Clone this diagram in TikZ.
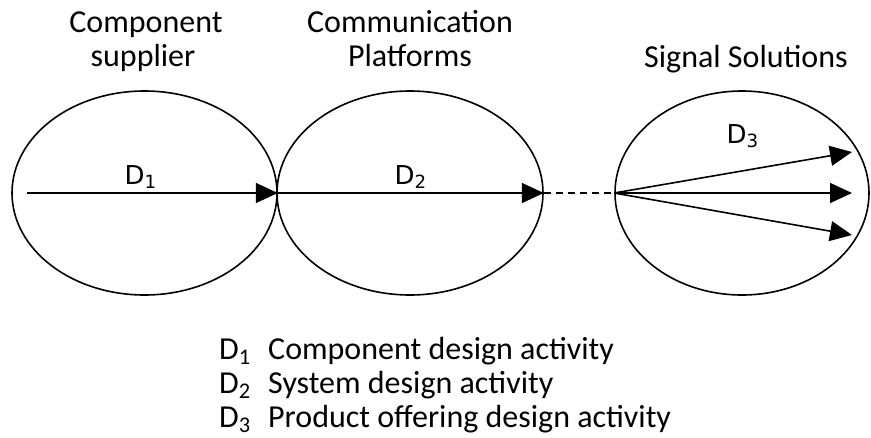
\documentclass[tikz,border=0pt]{standalone}
\usepackage{fontspec}
\setmainfont{Carlito}
\newfontfamily\dvfont{DejaVu Sans}
\usetikzlibrary{shapes.geometric,arrows.meta}
\begin{document}
\begin{tikzpicture}[x=1pt,y=-1pt,
  oval/.style={draw,ellipse,line width=1.6pt,inner sep=0pt,minimum height=204pt},
  flow/.style={line width=1.6pt,-{Triangle[length=22pt,width=20pt]}},
  dlabel/.style={anchor=base west,inner sep=0pt,font=\dvfont\fontsize{26}{30}\selectfont},
  title/.style={anchor=base,inner sep=0pt,font=\fontsize{32}{38}\selectfont},
  legend/.style={anchor=base west,inner sep=0pt,font=\fontsize{32}{38}\selectfont}]
\useasboundingbox (0,0) rectangle (871,437);
% titles
\node[title] (t1a) at (146,32) {Component};
\node[title] (t1b) at (143,66) {supplier};
\node[title] (t2a) at (410,32) {Communication};
\node[title] (t2b) at (410,66) {Platforms};
\node[title] (t3) at (746,67) {Signal Solutions};
% ellipses
\node[oval,minimum width=265pt] (e1) at (144.5,193) {};
\node[oval,minimum width=266pt] (e2) at (410,193) {};
\node[oval,minimum width=254pt] (e3) at (742,193) {};
% arrows
\coordinate (s1) at (27,193);
\coordinate (p1) at (852,152);
\coordinate (p2) at (852,193);
\coordinate (p3) at (852,235);
\draw[flow] (s1) -- (e1.east);
\draw[flow] (e2.west) -- (e2.east);
\draw[line width=1.6pt,dash pattern=on 7pt off 5pt] (e2.east) -- (e3.west);
\draw[flow] (e3.west) -- (p1);
\draw[flow] (e3.west) -- (p2);
\draw[flow] (e3.west) -- (p3);
% labels
\node[dlabel] (d1) at (124.5,184) {D\textsubscript{1}};
\node[dlabel] (d2) at (394.5,184) {D\textsubscript{2}};
\node[dlabel] (d3) at (726.5,143) {D\textsubscript{3}};
% legend
\node[legend] (l1d) at (219,359) {D\textsubscript{1}};
\node[legend] (l1t) at (268,359) {Component design activity};
\node[legend] (l2d) at (219,393) {D\textsubscript{2}};
\node[legend] (l2t) at (268,393) {System design activity};
\node[legend] (l3d) at (219,427) {D\textsubscript{3}};
\node[legend] (l3t) at (268,427) {Product offering design activity};
\end{tikzpicture}
\end{document}
